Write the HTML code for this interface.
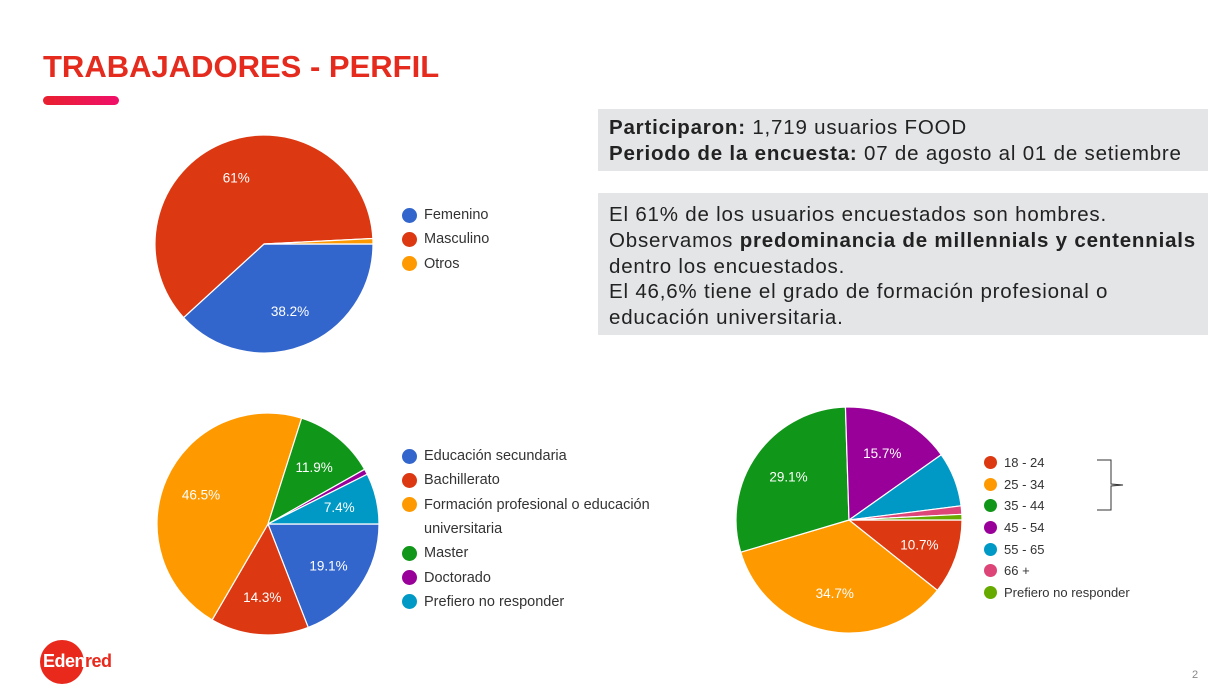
<!DOCTYPE html>
<html><head><meta charset="utf-8"><style>
body{margin:0;width:1217px;height:689px;background:#fff;position:relative;overflow:hidden;font-family:"Liberation Sans",sans-serif}
.abs{position:absolute}
.box{position:absolute;background:#e4e5e7;color:#222;font-size:20.5px;letter-spacing:0.8px;line-height:25.8px;padding:0 0 0 11px;box-sizing:border-box;white-space:nowrap}
.leg{position:absolute;font-size:14.5px;color:#333}
.leg div{height:24.3px;display:flex;align-items:center}
.leg span.d{display:inline-block;width:15px;height:15px;border-radius:50%;margin-right:7px;flex:none}
</style></head><body>
<div class="abs" style="left:43px;top:49px;font-size:31px;font-weight:bold;color:#e52b1e;letter-spacing:0px">TRABAJADORES - PERFIL</div>
<div class="abs" style="left:43px;top:96px;width:76px;height:9px;border-radius:5px;background:linear-gradient(90deg,#e8202e,#f0106a)"></div>

<div class="box" style="left:598px;top:109px;width:610px;height:62px;padding-top:6px">
<b>Participaron:</b> 1,719 usuarios FOOD<br><b>Periodo de la encuesta:</b> 07 de agosto al 01 de setiembre</div>
<div class="box" style="left:598px;top:193px;width:610px;height:142px;padding-top:9px">
El 61% de los usuarios encuestados son hombres.<br>Observamos <b>predominancia de millennials y centennials</b><br>dentro los encuestados.<br>El 46,6% tiene el grado de formación profesional o<br>educación universitaria.</div>

<svg class="abs" style="left:0;top:0" width="1217" height="689" id="charts"></svg>

<div class="leg" style="left:402px;top:203px">
<div><span class="d" style="background:#3366cc"></span>Femenino</div>
<div><span class="d" style="background:#dc3912"></span>Masculino</div>
<div><span class="d" style="background:#ff9900"></span>Otros</div>
</div>
<div class="leg" style="left:402px;top:444px">
<div><span class="d" style="background:#3366cc"></span>Educación secundaria</div>
<div><span class="d" style="background:#dc3912"></span>Bachillerato</div>
<div><span class="d" style="background:#ff9900"></span>Formación profesional o educación</div>
<div><span class="d" style="background:transparent"></span>universitaria</div>
<div><span class="d" style="background:#109618"></span>Master</div>
<div><span class="d" style="background:#990099"></span>Doctorado</div>
<div><span class="d" style="background:#0099c6"></span>Prefiero no responder</div>
</div>
<div class="leg" style="left:984px;top:452px;font-size:13px">
<div style="height:21.6px"><span class="d" style="background:#dc3912;width:13px;height:13px"></span>18 - 24</div>
<div style="height:21.6px"><span class="d" style="background:#ff9900;width:13px;height:13px"></span>25 - 34</div>
<div style="height:21.6px"><span class="d" style="background:#109618;width:13px;height:13px"></span>35 - 44</div>
<div style="height:21.6px"><span class="d" style="background:#990099;width:13px;height:13px"></span>45 - 54</div>
<div style="height:21.6px"><span class="d" style="background:#0099c6;width:13px;height:13px"></span>55 - 65</div>
<div style="height:21.6px"><span class="d" style="background:#dd4477;width:13px;height:13px"></span>66 +</div>
<div style="height:21.6px"><span class="d" style="background:#66aa00;width:13px;height:13px"></span>Prefiero no responder</div>
</div>
<svg class="abs" style="left:1090px;top:458px" width="40" height="56"><path d="M7,2 H21 V26 L33,27 L21,28 V52 H7" fill="none" stroke="#333" stroke-width="1"/></svg>

<div class="abs" style="left:40px;top:640px;width:44px;height:44px;border-radius:50%;background:#e8291c"></div>
<div class="abs" style="left:43px;top:651px;font-size:18px;font-weight:bold;letter-spacing:-0.5px"><span style="color:#fff">Eden</span><span style="color:#e8291c">red</span></div>
<div class="abs" style="left:1192px;top:669px;font-size:11px;color:#888">2</div>

<script>
const genderLabels=["Femenino","Masculino","Otros"];
const genderValues=[38.2,61,0.8];
const genderColors=["#3366cc","#dc3912","#ff9900"];
const eduLabels=["Educación secundaria","Bachillerato","Formación profesional o educación universitaria","Master","Doctorado","Prefiero no responder"];
const eduValues=[19.1,14.3,46.5,11.9,0.8,7.4];
const eduColors=["#3366cc","#dc3912","#ff9900","#109618","#990099","#0099c6"];
const ageLabels=["18 - 24","25 - 34","35 - 44","45 - 54","55 - 65","66 +","Prefiero no responder"];
const ageValues=[10.7,34.7,29.1,15.7,7.8,1.2,0.8];
const ageColors=["#dc3912","#ff9900","#109618","#990099","#0099c6","#dd4477","#66aa00"];
const ageShowLabel=[true,true,true,true,false,false,false];
const NS="http://www.w3.org/2000/svg";
const svg=document.getElementById('charts');
function pie(name,cx,cy,r,vals,cols,labels,fs,show){
  const g=document.createElementNS(NS,'g');
  
  
  svg.appendChild(g);
  const tot=vals.reduce((a,b)=>a+b,0);
  let a=0;
  vals.forEach((v,i)=>{
    const a0=a/tot*2*Math.PI, a1=(a+v)/tot*2*Math.PI; a+=v;
    const x0=cx+r*Math.cos(a0),y0=cy+r*Math.sin(a0),x1=cx+r*Math.cos(a1),y1=cy+r*Math.sin(a1);
    const p=document.createElementNS(NS,'path');
    p.setAttribute('d',`M${cx},${cy}L${x0},${y0}A${r},${r} 0 ${a1-a0>Math.PI?1:0} 1 ${x1},${y1}Z`);
    p.setAttribute('fill',cols[i]);p.setAttribute('stroke','#fff');p.setAttribute('stroke-width','1.2');
    
    
    g.appendChild(p);
    const vis=show?show[i]:v/tot>0.05;
    if(vis){
      const am=(a0+a1)/2;const t=document.createElementNS(NS,'text');
      t.setAttribute('x',cx+r*0.66*Math.cos(am));t.setAttribute('y',cy+r*0.66*Math.sin(am)+5);
      t.setAttribute('text-anchor','middle');t.setAttribute('fill','#fff');t.setAttribute('font-size',fs);
      t.setAttribute('font-family','Liberation Sans, sans-serif');
      t.textContent=(Math.round(v*10)/10)+'%';
      
      
      g.appendChild(t);
    }
  });
}
pie('gender-pie',264,244,109,genderValues,genderColors,genderLabels,13.5);
pie('education-pie',268,524,111,eduValues,eduColors,eduLabels,13.5);
pie('age-pie',849,520,113,ageValues,ageColors,ageLabels,13.5,ageShowLabel);
</script>
</body></html>
